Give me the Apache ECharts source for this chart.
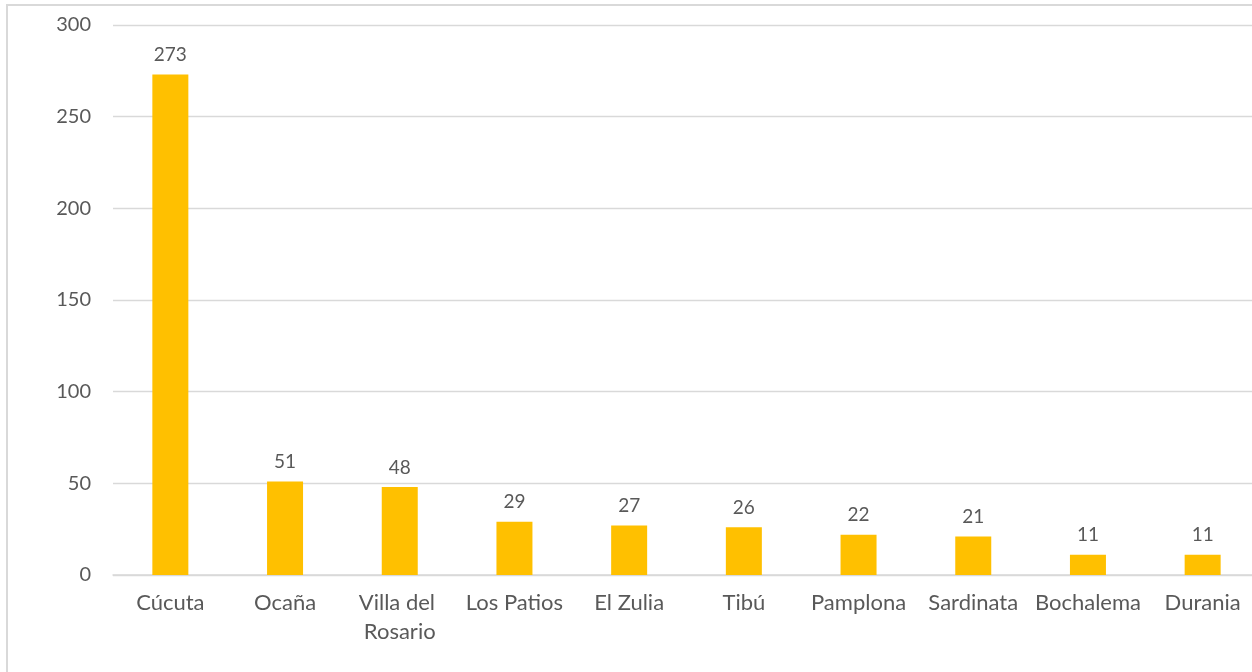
<!DOCTYPE html>
<html>
	<head>
		<meta charset="utf-8" />
		<script src="https://cdn.jsdelivr.net/npm/echarts@6/dist/echarts.min.js"></script>
		<style>
			body { margin: 0; background: #fff; }
			#wrap { position: relative; width: 1252px; height: 672px; overflow: hidden; }
			#frame { position: absolute; left: 6px; top: 4px; width: 1260px; height: 680px; border: 2px solid #d9d9d9; box-sizing: border-box; }
			#chart { position: absolute; left: 0; top: 0; width: 1262px; height: 672px; }
		</style>
	</head>
	<body>
		<div id="wrap">
			<div id="frame"></div>
			<div id="chart"></div>
		</div>
		<script>
			var municipios = ["Cúcuta", "Ocaña", "Villa del Rosario", "Los Patios", "El Zulia", "Tibú", "Pamplona", "Sardinata", "Bochalema", "Durania"];
			var casos = [273, 51, 48, 29, 27, 26, 22, 21, 11, 11];
			var ejeY = [0, 50, 100, 150, 200, 250, 300];

			var textcolor = "#595959";
			var chart = echarts.init(document.getElementById("chart"));

			chart.setOption({
				animation: false,
				grid: { left: 113, right: 2, top: 25, bottom: 97 },
				xAxis: {
					type: "category",
					data: municipios,
					axisTick: { show: false },
					axisLine: { lineStyle: { color: "#d9d9d9", width: 1.5 } },
					axisLabel: {
						interval: 0,
						color: textcolor,
						fontFamily: "Lato",
						fontSize: 22,
						margin: 13,
						lineHeight: 29,
						width: 112,
						overflow: "break"
					}
				},
				yAxis: {
					type: "value",
					min: ejeY[0],
					max: ejeY[ejeY.length - 1],
					interval: 50,
					axisLine: { show: false },
					axisTick: { show: false },
					splitLine: { lineStyle: { color: "#d9d9d9", width: 1.3 } },
					axisLabel: {
						color: textcolor,
						fontFamily: "Lato",
						fontSize: 20,
						margin: 22
					}
				},
				series: [{
					type: "bar",
					data: casos,
					barWidth: 36,
					itemStyle: { color: "#FFC000" },
					label: {
						show: true,
						position: "top",
						distance: 10,
						color: textcolor,
						fontFamily: "Lato",
						fontSize: 19
					}
				}]
			});
		</script>
	</body>
</html>
